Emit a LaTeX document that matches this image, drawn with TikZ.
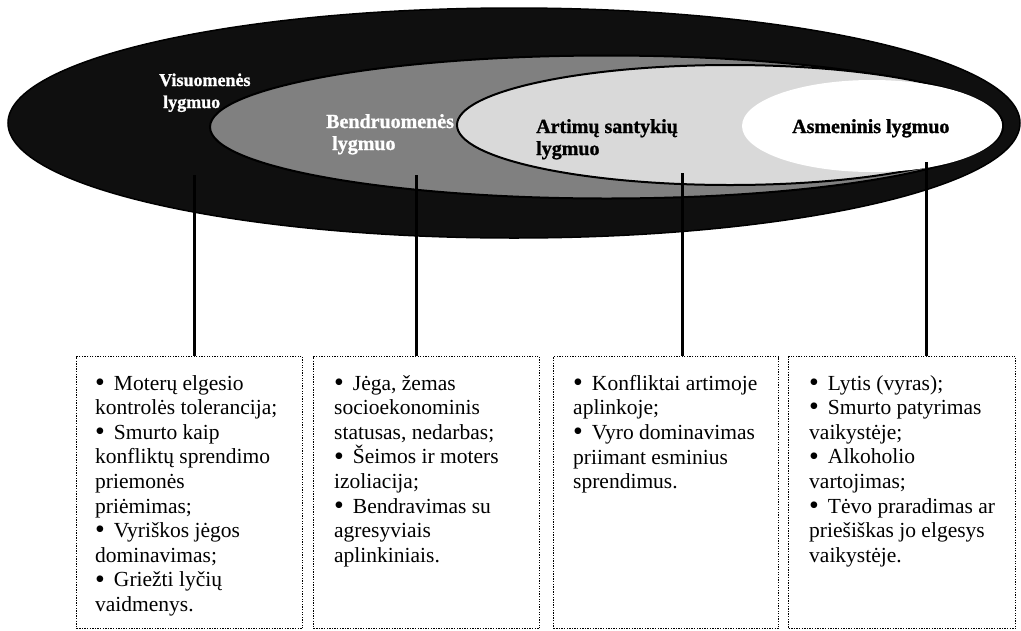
\documentclass[tikz,border=0pt]{standalone}
\usepackage{fontspec}
\usepackage{graphicx}
\setmainfont{Liberation Serif}[BoldFeatures={FakeBold=1.2}]
\definecolor{outerc}{HTML}{0F0F0F}
\definecolor{midc}{HTML}{808080}
\definecolor{lightc}{HTML}{D9D9D9}
\newcommand{\mybul}{\raisebox{-1.2pt}[0pt][0pt]{\scalebox{1.3}{\textbullet}}\hspace{9pt}}
\begin{document}
\begin{tikzpicture}[x=1pt,y=-1pt,
  ring/.style={draw=black, line width=2pt},
  box/.style={draw, line width=1.3pt, dash pattern=on 1.3pt off 1.3pt, inner sep=0, anchor=north west, minimum height=272pt},
  txt/.style={anchor=north west, align=left, inner sep=0, font=\fontsize{21.5}{24.6}\selectfont},
  lbl/.style={anchor=base west, align=left, inner sep=0, font=\bfseries\fontsize{20}{22}\selectfont},
  conn/.style={draw=black, line width=3pt}]
\useasboundingbox (0,0) rectangle (1021,630);
\fill[white] (0,0) rectangle (1021,630);
% ellipses
\draw[ring, line width=1.5pt, fill=outerc] (514,123) ellipse [x radius=506pt, y radius=115pt];
\draw[ring, fill=midc] (606.5,127) ellipse [x radius=396.5pt, y radius=71.5pt];
\draw[ring, fill=lightc] (730,125) ellipse [x radius=273pt, y radius=60pt];
\fill[white] (872,126) ellipse [x radius=130pt, y radius=46pt];
% labels
\node[lbl, text=white, font=\bfseries\fontsize{18}{22}\selectfont] (l1) at (159,108) {Visuomenės\\\hspace{4pt}lygmuo};
\node[lbl, text=white] (l2) at (326,150) {Bendruomenės\\\hspace{6pt}lygmuo};
\node[lbl] (l3) at (536,155) {Artimų santykių\\lygmuo};
\node[lbl] (l4) at (792,133) {Asmeninis lygmuo};
% boxes
\node[box, minimum width=226pt] (b1) at (76,356) {};
\node[box, minimum width=226pt] (b2) at (313,356) {};
\node[box, minimum width=225pt] (b3) at (553,356) {};
\node[box, minimum width=227pt] (b4) at (788,356) {};
\node[txt] (t1) at ([xshift=19pt,yshift=-19pt]b1.north west) {\mybul Moterų elgesio\\kontrolės tolerancija;\\\mybul Smurto kaip\\konfliktų sprendimo\\priemonės\\priėmimas;\\\mybul Vyriškos jėgos\\dominavimas;\\\mybul Griežti lyčių\\vaidmenys.};
\node[txt] (t2) at ([xshift=21pt,yshift=-19pt]b2.north west) {\mybul Jėga, žemas\\socioekonominis\\statusas, nedarbas;\\\mybul Šeimos ir moters\\izoliacija;\\\mybul Bendravimas su\\agresyviais\\aplinkiniais.};
\node[txt] (t3) at ([xshift=20pt,yshift=-19pt]b3.north west) {\mybul Konfliktai artimoje\\aplinkoje;\\\mybul Vyro dominavimas\\priimant esminius\\sprendimus.};
\node[txt] (t4) at ([xshift=21pt,yshift=-19pt]b4.north west) {\mybul Lytis (vyras);\\\mybul Smurto patyrimas\\vaikystėje;\\\mybul Alkoholio\\vartojimas;\\\mybul Tėvo praradimas ar\\priešiškas jo elgesys\\vaikystėje.};
% connectors
\coordinate (s1) at (194,175);
\coordinate (s2) at (416,175);
\coordinate (s3) at (682,173);
\coordinate (s4) at (926,162);
\draw[conn] (s1) -- (s1 |- b1.north);
\draw[conn] (s2) -- (s2 |- b2.north);
\draw[conn] (s3) -- (s3 |- b3.north);
\draw[conn] (s4) -- (s4 |- b4.north);
\end{tikzpicture}
\end{document}
